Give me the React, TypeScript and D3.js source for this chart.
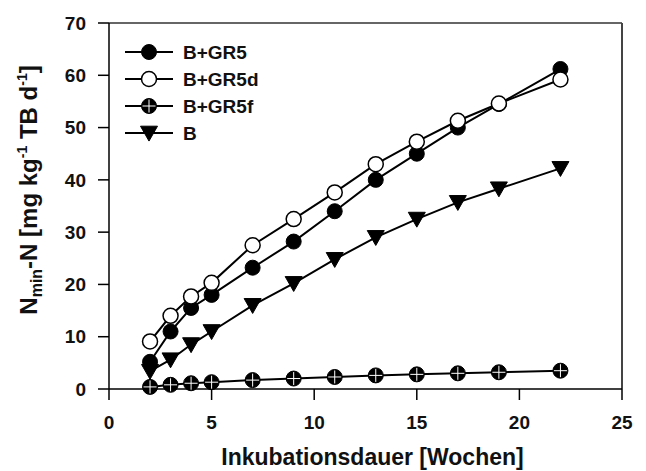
import React from "react";
import * as d3 from "d3";

const weeks = [2, 3, 4, 5, 7, 9, 11, 13, 15, 17, 19, 22];
const gr5 = [5.2, 11, 15.5, 18, 23.2, 28.2, 34, 40, 45, 50, 54.5, 61.2];
const gr5d = [9.1, 14, 17.7, 20.3, 27.5, 32.5, 37.6, 43, 47.3, 51.3, 54.6, 59.2];
const gr5f = [0.4, 0.8, 1.1, 1.3, 1.7, 2.0, 2.3, 2.6, 2.8, 3.0, 3.2, 3.5];
const bOnly = [3.4, 5.6, 8.5, 11, 16, 20.2, 24.8, 29, 32.5, 35.7, 38.3, 42.2];
const xTicks = [0, 5, 10, 15, 20, 25];
const yTicks = [0, 10, 20, 30, 40, 50, 60, 70];
const legendLabels = ["B+GR5", "B+GR5d", "B+GR5f", "B"];

const W = 646;
const H = 471;
const L = 109, R = 622, T = 23, B = 389;
const FONT = "Liberation Sans, Arial, sans-serif";

type Kind = "filled" | "open" | "cross" | "tri";

function Marker({ x, y, kind }: { x: number; y: number; kind: Kind }) {
  const r = 7.5;
  if (kind === "filled") return <circle cx={x} cy={y} r={r} fill="#000" stroke="#000" strokeWidth={1} />;
  if (kind === "open") return <circle cx={x} cy={y} r={r} fill="#fff" stroke="#000" strokeWidth={1.5} />;
  if (kind === "cross")
    return (
      <g>
        <circle cx={x} cy={y} r={r} fill="#000" stroke="#000" strokeWidth={1} />
        <line x1={x - r + 1} x2={x + r - 1} y1={y} y2={y} stroke="#fff" strokeWidth={1} />
        <line x1={x} x2={x} y1={y - r + 1} y2={y + r - 1} stroke="#fff" strokeWidth={1} />
      </g>
    );
  const s = 8.5;
  return <path d={`M${x - s},${y - s * 0.8}L${x + s},${y - s * 0.8}L${x},${y + s * 0.95}Z`} fill="#000" stroke="#000" strokeWidth={1} />;
}

export default function App() {
  const x = d3.scaleLinear().domain([0, 25]).range([L, R]);
  const y = d3.scaleLinear().domain([0, 70]).range([B, T]);
  const line = d3
    .line<[number, number]>()
    .x((d) => x(d[0]))
    .y((d) => y(d[1]));

  const series: { vals: number[]; kind: Kind }[] = [
    { vals: bOnly, kind: "tri" },
    { vals: gr5f, kind: "cross" },
    { vals: gr5, kind: "filled" },
    { vals: gr5d, kind: "open" },
  ];
  const legendKinds: Kind[] = ["filled", "open", "cross", "tri"];
  const legendY = [52, 79, 106, 133];

  return (
    <svg width={W} height={H} style={{ position: "absolute", left: 0, top: 0, background: "#fff" }}>
      <rect x={0} y={0} width={W} height={H} fill="#fff" />
      {/* frame */}
      <line x1={L} x2={R} y1={T} y2={T} stroke="#666" strokeWidth={2} />
      <line x1={R} x2={R} y1={T} y2={B} stroke="#444" strokeWidth={2} />
      {/* axes */}
      <line x1={L} x2={L} y1={T} y2={B} stroke="#000" strokeWidth={1.5} />
      <line x1={L} x2={R} y1={B} y2={B} stroke="#000" strokeWidth={1.5} />
      {yTicks.map((t) => (
        <g key={"y" + t}>
          <line x1={L - 11} x2={L} y1={y(t)} y2={y(t)} stroke="#000" strokeWidth={1.5} />
          <text x={86} y={y(t)} dy="0.35em" textAnchor="end" fontFamily={FONT} fontWeight="bold" fontSize={19} fill="#111">
            {t}
          </text>
        </g>
      ))}
      {xTicks.map((t) => (
        <g key={"x" + t}>
          <line x1={x(t)} x2={x(t)} y1={B} y2={B + 11} stroke="#000" strokeWidth={1.5} />
          <text x={x(t)} y={429} textAnchor="middle" fontFamily={FONT} fontWeight="bold" fontSize={19} fill="#111">
            {t}
          </text>
        </g>
      ))}
      <text x={(L + R) / 2 + 7} y={465} textAnchor="middle" fontFamily={FONT} fontWeight="bold" fontSize={23} fill="#111">
        Inkubationsdauer [Wochen]
      </text>
      <text
        transform={`translate(37,${(T + B) / 2 - 16}) rotate(-90)`}
        textAnchor="middle"
        fontFamily={FONT}
        fontWeight="bold"
        fontSize={24}
        fill="#111"
      >
        <tspan>N</tspan>
        <tspan fontSize={16} dy={5}>min</tspan>
        <tspan dy={-5}>-N [mg kg</tspan>
        <tspan fontSize={14} dy={-10}>-1</tspan>
        <tspan dy={10}> TB d</tspan>
        <tspan fontSize={14} dy={-10}>-1</tspan>
        <tspan dy={10}>]</tspan>
      </text>
      {/* series */}
      {series.map((s, i) => (
        <g key={"s" + i}>
          <path d={line(weeks.map((w, j) => [w, s.vals[j]] as [number, number])) || ""} fill="none" stroke="#000" strokeWidth={2} />
          {weeks.map((w, j) => (
            <Marker key={j} x={x(w)} y={y(s.vals[j])} kind={s.kind} />
          ))}
        </g>
      ))}
      {/* legend */}
      {legendLabels.map((lab, i) => (
        <g key={"l" + i}>
          <line x1={125} x2={173} y1={legendY[i]} y2={legendY[i]} stroke="#000" strokeWidth={2} />
          <Marker x={149} y={legendY[i]} kind={legendKinds[i]} />
          <text x={183} y={legendY[i]} dy="0.36em" fontFamily={FONT} fontWeight="bold" fontSize={19} fill="#111">
            {lab}
          </text>
        </g>
      ))}
    </svg>
  );
}
